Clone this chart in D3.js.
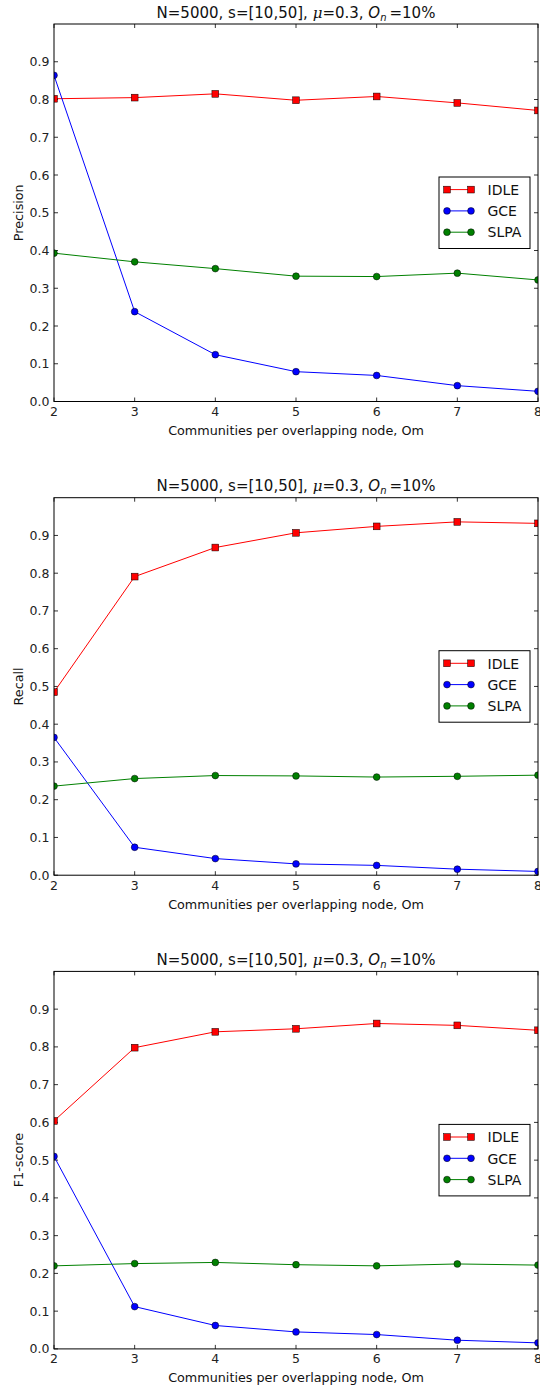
<!DOCTYPE html>
<html>
<head>
<meta charset="utf-8">
<title>IDLE / GCE / SLPA</title>
<script src="https://cdn.jsdelivr.net/npm/d3@7"></script>
<style>
  body { margin: 0; background: #fff; }
  svg { display: block; font-family: "DejaVu Sans", sans-serif; }
</style>
</head>
<body>
<svg id="chart"></svg>
<script>
// data
var om = [2, 3, 4, 5, 6, 7, 8];
var yTicks = [0, 0.1, 0.2, 0.3, 0.4, 0.5, 0.6, 0.7, 0.8, 0.9];
var methods = ["IDLE", "GCE", "SLPA"];

var precisionIDLE = [0.802, 0.805, 0.815, 0.798, 0.808, 0.791, 0.771];
var precisionGCE  = [0.864, 0.238, 0.124, 0.079, 0.069, 0.042, 0.027];
var precisionSLPA = [0.393, 0.370, 0.352, 0.332, 0.331, 0.340, 0.322];

var recallIDLE = [0.485, 0.791, 0.868, 0.907, 0.924, 0.936, 0.932];
var recallGCE  = [0.365, 0.074, 0.044, 0.030, 0.026, 0.016, 0.010];
var recallSLPA = [0.236, 0.256, 0.264, 0.263, 0.260, 0.262, 0.265];

var f1IDLE = [0.604, 0.798, 0.840, 0.848, 0.862, 0.857, 0.844];
var f1GCE  = [0.510, 0.112, 0.062, 0.045, 0.038, 0.023, 0.016];
var f1SLPA = [0.220, 0.226, 0.229, 0.223, 0.220, 0.225, 0.222];

var panels = [
  { ylabel: "Precision", series: [precisionIDLE, precisionGCE, precisionSLPA] },
  { ylabel: "Recall",    series: [recallIDLE, recallGCE, recallSLPA] },
  { ylabel: "F1-score",  series: [f1IDLE, f1GCE, f1SLPA] }
];

var colors = { IDLE: "#ff0000", GCE: "#0000ff", SLPA: "#008000" };
var shapes = { IDLE: "square", GCE: "circle", SLPA: "circle" };

var W = 540, H = 1389;
var left = 54, right = 538;
var plotH = 377.5, firstTop = 24, step = 473.7;

var svg = d3.select("#chart").attr("width", W).attr("height", H);

var x = d3.scaleLinear().domain([2, 8]).range([left, right]);

function marker(g, shape, cx, cy, color) {
  if (shape === "square") {
    g.append("rect")
      .attr("x", cx - 3.4).attr("y", cy - 3.4)
      .attr("width", 6.8).attr("height", 6.8)
      .attr("fill", color).attr("stroke", "#000").attr("stroke-width", 0.5);
  } else {
    g.append("circle")
      .attr("cx", cx).attr("cy", cy).attr("r", 3.4)
      .attr("fill", color).attr("stroke", "#000").attr("stroke-width", 0.5);
  }
}

panels.forEach(function(p, i) {
  var top = firstTop + i * step;
  var bottom = top + plotH;
  var y = d3.scaleLinear().domain([0, 1]).range([bottom, top]);
  var g = svg.append("g");

  g.append("clipPath").attr("id", "clip" + i)
    .append("rect").attr("x", left).attr("y", top)
    .attr("width", right - left).attr("height", plotH);

  // ticks (inward, all four sides)
  var tickLen = 4;
  om.forEach(function(v) {
    g.append("line").attr("x1", x(v)).attr("x2", x(v))
      .attr("y1", bottom).attr("y2", bottom - tickLen)
      .attr("stroke", "#000").attr("stroke-width", 0.8);
    g.append("line").attr("x1", x(v)).attr("x2", x(v))
      .attr("y1", top).attr("y2", top + tickLen)
      .attr("stroke", "#000").attr("stroke-width", 0.8);
    g.append("text").attr("x", x(v)).attr("y", bottom + 14.5)
      .attr("text-anchor", "middle").attr("font-size", 12.5).attr("fill", "#222")
      .text(v);
  });
  yTicks.forEach(function(v) {
    g.append("line").attr("x1", left).attr("x2", left + tickLen)
      .attr("y1", y(v)).attr("y2", y(v))
      .attr("stroke", "#000").attr("stroke-width", 0.8);
    g.append("line").attr("x1", right).attr("x2", right - tickLen)
      .attr("y1", y(v)).attr("y2", y(v))
      .attr("stroke", "#000").attr("stroke-width", 0.8);
    g.append("text").attr("x", 49.5).attr("y", y(v) + 4.5)
      .attr("text-anchor", "end").attr("font-size", 12.5).attr("fill", "#222")
      .text(d3.format(".1f")(v));
  });

  // series
  var plot = g.append("g").attr("clip-path", "url(#clip" + i + ")");
  var line = d3.line().x(function(d, k) { return x(om[k]); }).y(function(d) { return y(d); });
  methods.forEach(function(m, j) {
    var vals = p.series[j];
    plot.append("path").attr("d", line(vals))
      .attr("fill", "none").attr("stroke", colors[m]).attr("stroke-width", 1);
    vals.forEach(function(v, k) { marker(plot, shapes[m], x(om[k]), y(v), colors[m]); });
  });

  // frame
  g.append("rect").attr("x", left).attr("y", top)
    .attr("width", right - left).attr("height", plotH)
    .attr("fill", "none").attr("stroke", "#000").attr("stroke-width", 1);

  // title
  var t = g.append("text").attr("x", (left + right) / 2).attr("y", top - 6.5)
    .attr("text-anchor", "middle").attr("font-size", 15).attr("fill", "#111");
  t.append("tspan").text("N=5000, s=[10,50], ");
  t.append("tspan").attr("font-style", "italic").attr("font-family", "DejaVu Serif").text("\u03bc");
  t.append("tspan").text("=0.3, ");
  t.append("tspan").attr("font-style", "italic").text("O");
  t.append("tspan").attr("font-style", "italic").attr("font-size", 10).attr("dy", 3).text("n");
  t.append("tspan").attr("dy", -3).text("\u2009=10%");

  // axis labels
  g.append("text").attr("x", (left + right) / 2).attr("y", bottom + 33.5)
    .attr("text-anchor", "middle").attr("font-size", 12.75).attr("fill", "#111")
    .text("Communities per overlapping node, Om");
  g.append("text")
    .attr("transform", "translate(22.5," + ((top + bottom) / 2) + ") rotate(-90)")
    .attr("text-anchor", "middle").attr("font-size", 12.75).attr("fill", "#111")
    .text(p.ylabel);

  // legend (center right)
  var lw = 91, lh = 71.5;
  var lx = right - 8 - lw, ly = (top + bottom) / 2 - lh / 2;
  var lg = g.append("g");
  lg.append("rect").attr("x", lx).attr("y", ly).attr("width", lw).attr("height", lh)
    .attr("fill", "#fff").attr("stroke", "#000").attr("stroke-width", 1);
  methods.forEach(function(m, j) {
    var ry = ly + 12.6 + j * 21.3;
    lg.append("line").attr("x1", lx + 8).attr("x2", lx + 32)
      .attr("y1", ry).attr("y2", ry).attr("stroke", colors[m]).attr("stroke-width", 1);
    marker(lg, shapes[m], lx + 8, ry, colors[m]);
    marker(lg, shapes[m], lx + 32, ry, colors[m]);
    lg.append("text").attr("x", lx + 48.5).attr("y", ry + 5.2)
      .attr("font-size", 14).attr("fill", "#111").text(m);
  });
});
</script>
</body>
</html>
